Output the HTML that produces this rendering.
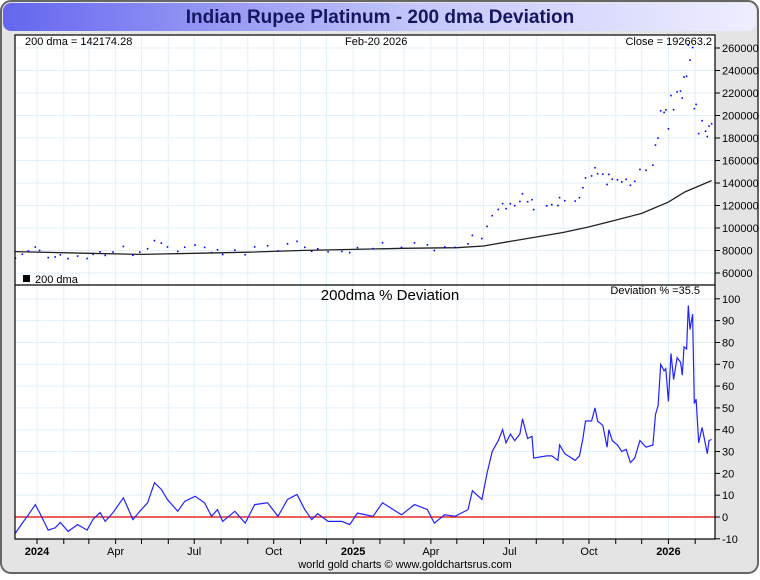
<!DOCTYPE html>
<html><head><meta charset="utf-8"><style>
body{margin:0;background:#fff;font-family:"Liberation Sans",sans-serif}
svg text{font-family:"Liberation Sans",sans-serif}
</style></head><body>
<svg id="c" width="760" height="575" viewBox="0 0 760 575">
<defs><linearGradient id="tg" x1="0" x2="1"><stop offset="0" stop-color="#6466ee"/><stop offset="0.55" stop-color="#c4c6fa"/><stop offset="1" stop-color="#eeeeff"/></linearGradient></defs>
<rect x="1" y="1" width="757" height="572" rx="10" fill="#e4e4e4" stroke="#666" stroke-width="2"/>
<rect x="3" y="3" width="753" height="28" rx="8" fill="url(#tg)"/>
<text x="380" y="23" text-anchor="middle" font-size="19" font-weight="bold" fill="#141660">Indian Rupee Platinum - 200 dma Deviation</text>
<rect x="15" y="35" width="700" height="504" fill="#fff"/>
<g id="grid"></g>
<g id="marks"></g>
<rect x="15" y="35" width="700" height="504" fill="none" stroke="#000" stroke-width="1.2"/>
<line x1="15" y1="285" x2="715" y2="285" stroke="#000" stroke-width="1.2"/>
<g id="axes"></g>
<text x="25" y="45" font-size="11">200 dma = 142174.28</text>
<text x="345" y="45" font-size="11">Feb-20  2026</text>
<text x="712" y="45" font-size="11" text-anchor="end">Close = 192663.2</text>
<rect x="23" y="275" width="7" height="7" fill="#000"/>
<text x="35" y="283" font-size="11">200 dma</text>
<text x="390" y="300" font-size="15" text-anchor="middle">200dma  %  Deviation</text>
<text x="700" y="294" font-size="11" text-anchor="end">Deviation % =35.5</text>
<text x="405" y="568" font-size="11" text-anchor="middle">world gold charts © www.goldchartsrus.com</text>
</svg>
<script>
const dates=["2023-12-07","2023-12-15","2023-12-22","2023-12-30","2024-01-04","2024-01-14","2024-01-22","2024-01-28","2024-02-06","2024-02-17","2024-02-28","2024-03-06","2024-03-14","2024-03-20","2024-03-29","2024-04-10","2024-04-21","2024-04-29","2024-05-08","2024-05-16","2024-05-24","2024-05-31","2024-06-12","2024-06-20","2024-07-02","2024-07-13","2024-07-21","2024-07-28","2024-08-03","2024-08-17","2024-08-29","2024-09-09","2024-09-24","2024-10-06","2024-10-17","2024-10-28","2024-11-06","2024-11-14","2024-11-21","2024-12-03","2024-12-19","2024-12-28","2025-01-06","2025-01-24","2025-02-04","2025-02-26","2025-03-13","2025-03-28","2025-04-05","2025-04-17","2025-04-29","2025-05-14","2025-05-19","2025-05-30","2025-06-05","2025-06-11","2025-06-18","2025-06-23","2025-06-27","2025-07-02","2025-07-07","2025-07-13","2025-07-16","2025-07-22","2025-07-27","2025-07-29","2025-08-13","2025-08-19","2025-08-26","2025-08-28","2025-09-03","2025-09-15","2025-09-20","2025-09-24","2025-09-27","2025-10-04","2025-10-08","2025-10-11","2025-10-17","2025-10-22","2025-10-24","2025-10-28","2025-11-03","2025-11-08","2025-11-13","2025-11-18","2025-11-23","2025-11-29","2025-12-06","2025-12-14","2025-12-17","2025-12-20","2025-12-23","2025-12-27","2025-12-29","2026-01-01","2026-01-04","2026-01-07","2026-01-11","2026-01-15","2026-01-17","2026-01-19","2026-01-22","2026-01-24","2026-01-26","2026-01-29","2026-01-31","2026-02-02","2026-02-05","2026-02-09","2026-02-13","2026-02-15","2026-02-17","2026-02-20"];
const deviation=[-7.4,-2.8,1,5.7,2,-6,-5,-2.5,-6.6,-3.5,-6,-1,2,-2,2,8.8,-1.2,2.6,6.5,15.7,12.6,8,2.6,7.2,9.5,6.5,0.3,3.4,-2,2.6,-2.8,5.7,6.5,0.3,8,10.3,3.4,-1.2,1.5,-2,-2,-3.5,1.8,0.3,6.5,1,5.7,3.4,-2.8,1,0.3,3.4,12,8,20,30,35,40,34,38,35,38,45,36,37,27,28,28,26,33,29,26,28,36,44,44,50,44,42,32,40,35,33,30,31,25,27,35,32,33,47,51,70,67,68,53,75,63,73,71,65,78,77,97,86,93,52,54,34,41,33,29,35,35.5];
const dmaDates=["2023-12-07","2024-03-01","2024-05-01","2024-07-01","2024-09-01","2024-11-01","2025-01-01","2025-03-01","2025-05-01","2025-06-01","2025-07-01","2025-08-01","2025-09-01","2025-10-01","2025-11-01","2025-12-01","2026-01-01","2026-01-20","2026-02-20"];
const dmaValues=[79000,77500,76500,77500,78500,80000,81000,82000,82500,84000,88000,92000,96000,101000,107000,113000,123000,132000,142174];
const priceTicks=[60000,80000,100000,120000,140000,160000,180000,200000,220000,240000,260000];
const devTicks=[-10,0,10,20,30,40,50,60,70,80,90,100];
const monthLabels=[["2024-01-01","2024",1],["2024-04-01","Apr",0],["2024-07-01","Jul",0],["2024-10-01","Oct",0],["2025-01-01","2025",1],["2025-04-01","Apr",0],["2025-07-01","Jul",0],["2025-10-01","Oct",0],["2026-01-01","2026",1]];

const NS="http://www.w3.org/2000/svg";
const t0=Date.UTC(2024,0,1);
function d(s){const p=s.split("-");return (Date.UTC(+p[0],+p[1]-1,+p[2])-t0)/86400000;}
const X=s=>37+d(s)/365.25*315.5;
const YP=v=>273-(v-60000)*225/200000;
const YD=v=>517-v*240/110;
function el(tag,attrs,parent){const e=document.createElementNS(NS,tag);for(const k in attrs)e.setAttribute(k,attrs[k]);parent.appendChild(e);return e;}
const grid=document.getElementById("grid"),marks=document.getElementById("marks"),axes=document.getElementById("axes");
// month gridlines & ticks
for(let y=2023,m=11;y<2026||m<=2;){const s=y+"-"+String(m+1).padStart(2,"0")+"-01";const x=X(s);
 if(x>15&&x<715){const g=el("line",{x1:x,y1:35,x2:x,y2:539,stroke:"#e2f0f9","stroke-width":1},grid);
 
 const tk=el("line",{x1:x,y1:539,x2:x,y2:544,stroke:"#000"},axes);}
 m++;if(m>11){m=0;y++;}}
priceTicks.forEach(v=>{const y=YP(v);
 const g=el("line",{x1:15,y1:y,x2:715,y2:y,stroke:"#e2f0f9"},grid);
 el("line",{x1:715,y1:y,x2:720,y2:y,stroke:"#000"},axes);
 const t=el("text",{x:722,y:y+4,"font-size":11},axes);t.textContent=v;
 });
devTicks.forEach(v=>{const y=YD(v);
 const g=el("line",{x1:15,y1:y,x2:715,y2:y,stroke:"#e2f0f9"},grid);
 el("line",{x1:715,y1:y,x2:720,y2:y,stroke:"#000"},axes);
 const t=el("text",{x:722,y:y+4,"font-size":11},axes);t.textContent=v;
 });
monthLabels.forEach(([s,l,b])=>{const t=el("text",{x:X(s),y:555,"font-size":11,"text-anchor":"middle","font-weight":b?"bold":"normal"},axes);t.textContent=l;
 });
// zero line
const z=el("line",{x1:15,y1:YD(0),x2:715,y2:YD(0),stroke:"#e00000","stroke-width":1.2},marks);

// dma line
const dl=el("polyline",{points:dmaDates.map((s,i)=>X(s).toFixed(1)+","+YP(dmaValues[i]).toFixed(1)).join(" "),fill:"none",stroke:"#222","stroke-width":1.3},marks);

function dmaAt(s){const t=d(s);for(let i=1;i<dmaDates.length;i++){const a=d(dmaDates[i-1]),b=d(dmaDates[i]);if(t<=b){return dmaValues[i-1]+(dmaValues[i]-dmaValues[i-1])*(t-a)/(b-a);}}return dmaValues[dmaValues.length-1];}
// price dots
dates.forEach((s,i)=>{const p=dmaAt(s)*(1+deviation[i]/100);
 const c=el("rect",{x:X(s)-0.8,y:YP(p)-0.8,width:1.6,height:1.6,fill:"#0000ff"},marks);
 });
// deviation line
const dv=el("polyline",{points:dates.map((s,i)=>X(s).toFixed(1)+","+YD(deviation[i]).toFixed(1)).join(" "),fill:"none",stroke:"#2222ff","stroke-width":1.2},marks);

</script>
</body></html>
